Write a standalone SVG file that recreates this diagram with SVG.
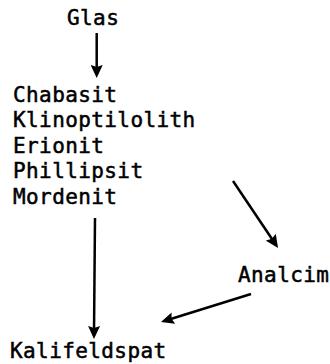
<svg xmlns="http://www.w3.org/2000/svg" width="330" height="364" viewBox="0 0 330 364">
<style>
text{font-family:"DejaVu Sans Mono","Liberation Mono",monospace;font-size:21px;fill:#000;stroke:#000;stroke-width:0.5;letter-spacing:0.4px}
.c{stroke:#000;stroke-width:2.5;fill:none;marker-end:url(#ah)}
</style>
<defs>
<marker id="ah" viewBox="0 0 13 12" refX="7" refY="6" markerWidth="13" markerHeight="12" markerUnits="userSpaceOnUse" orient="auto">
<path d="M0,0 L13,6 L0,12 L2,6 z" fill="#000"/>
</marker>
</defs>
<rect width="330" height="364" fill="#fff"/>
<g id="glas"><text x="67" y="25">Glas</text></g>
<g id="zeolithe">
<text x="13" y="102">Chabasit</text>
<text x="13" y="127">Klinoptilolith</text>
<text x="13" y="152.5">Erionit</text>
<text x="13" y="178">Phillipsit</text>
<text x="13" y="203.5">Mordenit</text>
</g>
<g id="analcim"><text x="238" y="282">Analcim</text></g>
<g id="kalifeldspat"><text x="10" y="358">Kalifeldspat</text></g>
<g id="connectors">
<line class="c" x1="96.7" y1="33" x2="96.7" y2="72"/>
<line class="c" x1="95" y1="218" x2="94" y2="333"/>
<line class="c" x1="233" y1="181" x2="274.7" y2="243"/>
<line class="c" x1="251" y1="294" x2="166.7" y2="320.2"/>
</g>
</svg>
